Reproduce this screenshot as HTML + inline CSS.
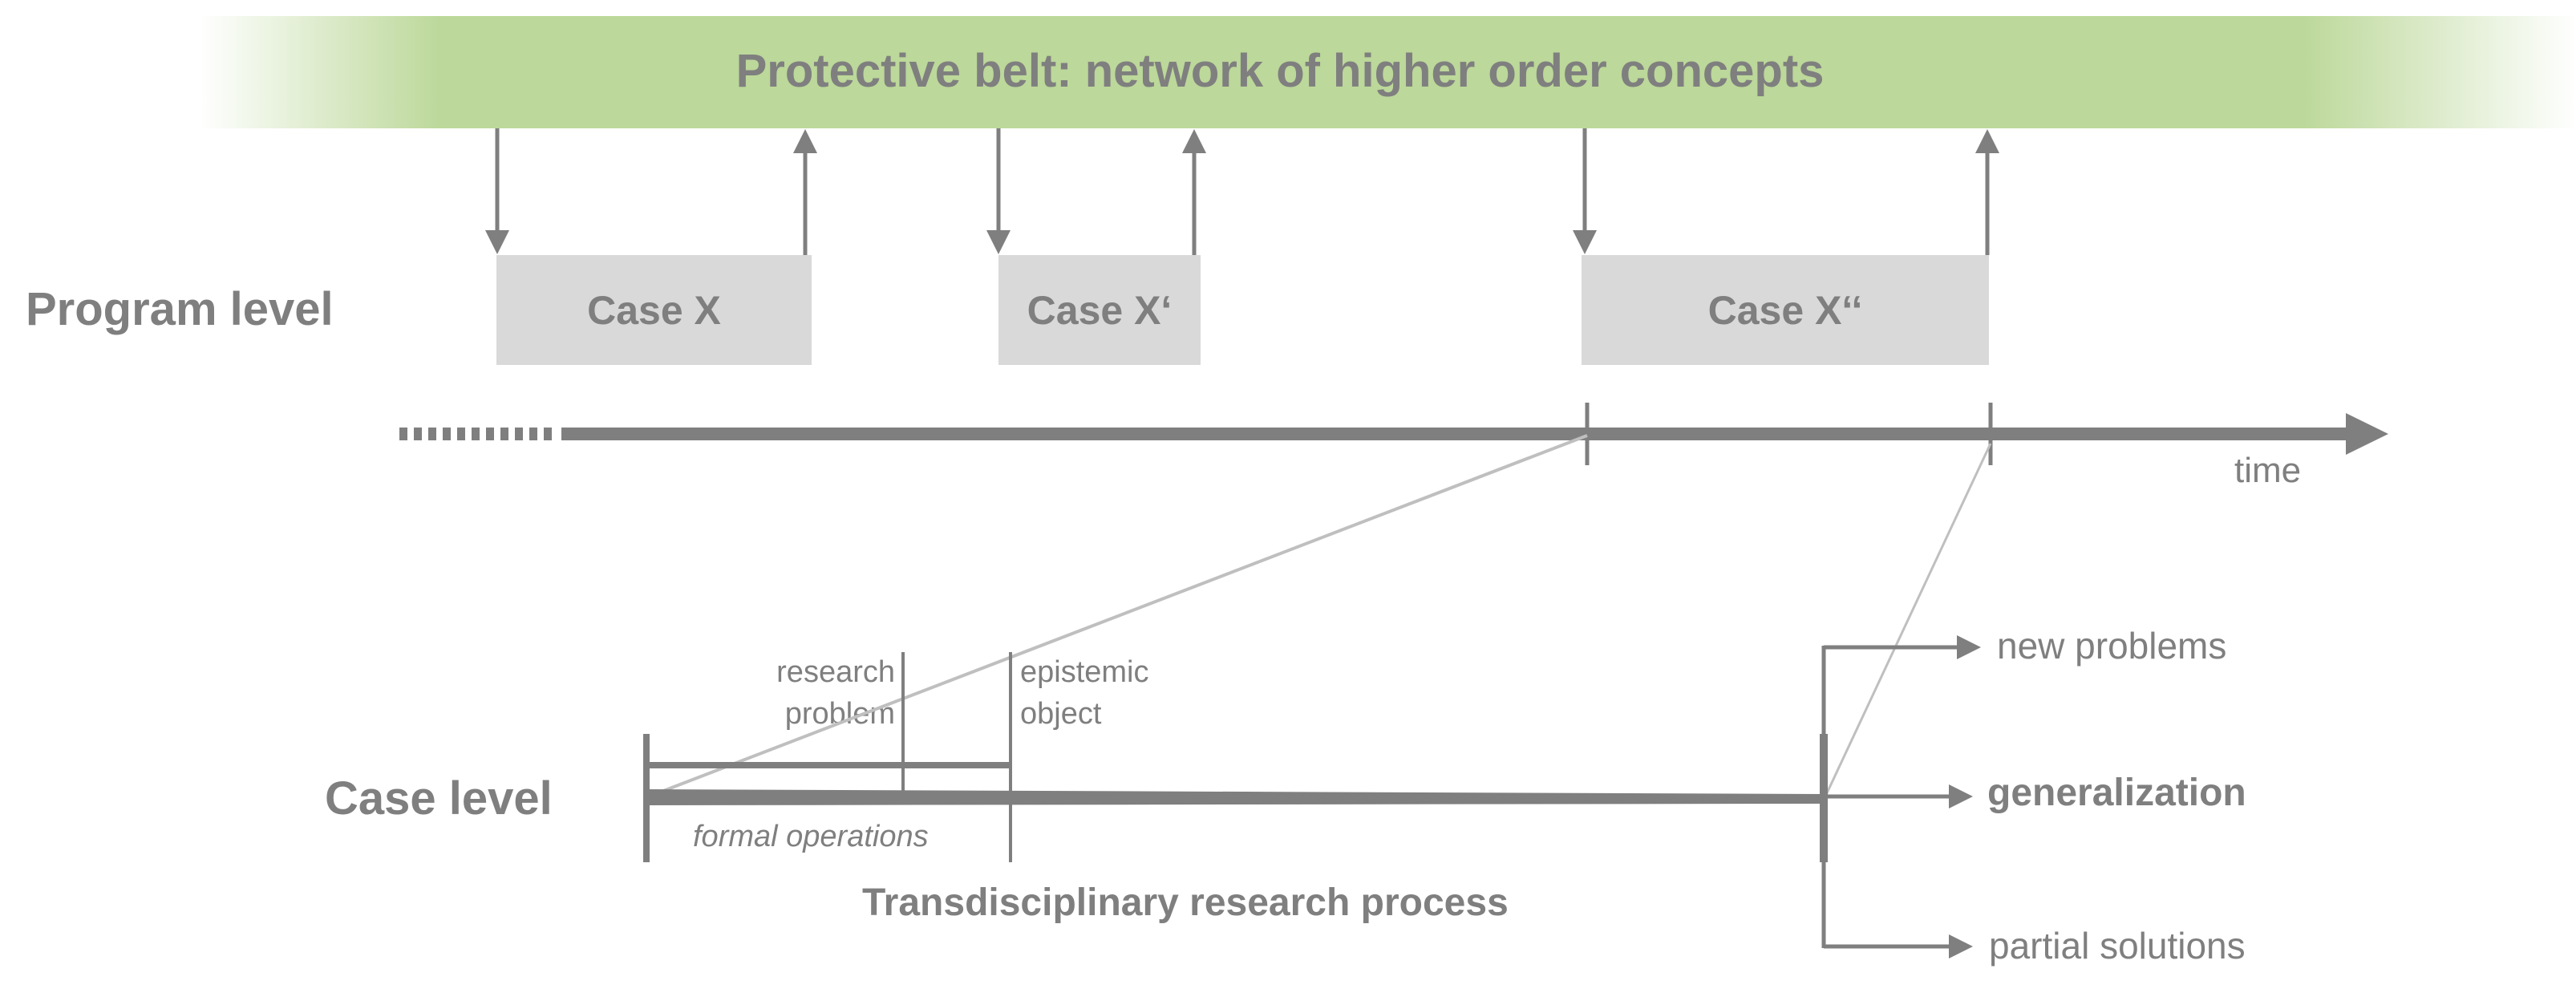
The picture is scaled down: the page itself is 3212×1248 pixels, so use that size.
<!DOCTYPE html>
<html><head><meta charset="utf-8"><style>
html,body{margin:0;padding:0;background:#fff;}
body{width:3212px;height:1248px;position:relative;overflow:hidden;font-family:"Liberation Sans",sans-serif;color:#7f7f7f;}
.band{position:absolute;left:250px;top:20px;width:2962px;height:140px;background:linear-gradient(to right,rgba(188,216,154,0) 0px,#bcd89a 300px,#bcd89a 2620px,rgba(188,216,154,0) 2962px);}
.t{position:absolute;white-space:nowrap;}
.box{position:absolute;background:#d9d9d9;top:318px;height:137px;display:flex;align-items:center;justify-content:center;font-weight:bold;font-size:50px;color:#7f7f7f;}
</style></head><body>
<div class="band"></div>
<div class="t" style="left:0;width:3212px;top:55px;text-align:center;font-weight:bold;font-size:58px;padding-left:40px;box-sizing:border-box;left:-30px;">Protective belt: network of higher order concepts</div>
<div class="box" style="left:619px;width:393px;">Case X</div>
<div class="box" style="left:1245px;width:252px;">Case X‘</div>
<div class="box" style="left:1972px;width:508px;">Case X‘‘</div>
<div class="t" style="left:32px;top:352px;font-weight:bold;font-size:58px;">Program level</div>
<div class="t" style="left:405px;top:962px;font-weight:bold;font-size:58px;">Case level</div>
<div class="t" style="left:2786px;top:562px;font-size:44px;">time</div>
<div class="t" style="left:900px;top:812px;width:216px;text-align:right;font-size:38px;line-height:52px;">research<br>problem</div>
<div class="t" style="left:1272px;top:812px;font-size:38px;line-height:52px;">epistemic<br>object</div>
<div class="t" style="left:864px;top:1022px;font-size:38px;font-style:italic;">formal operations</div>
<div class="t" style="left:1075px;top:1098px;font-size:48px;font-weight:bold;">Transdisciplinary research process</div>
<div class="t" style="left:2490px;top:778px;font-size:46px;">new problems</div>
<div class="t" style="left:2478px;top:961px;font-size:48px;font-weight:bold;">generalization</div>
<div class="t" style="left:2480px;top:1152px;font-size:46px;">partial solutions</div>
<svg width="3212" height="1248" style="position:absolute;left:0;top:0" xmlns="http://www.w3.org/2000/svg">
<defs>
<marker id="a" markerWidth="6" markerHeight="6" refX="5" refY="3" orient="auto" markerUnits="strokeWidth"><path d="M0,0 L6,3 L0,6 z" fill="#7f7f7f"/></marker>
</defs>
<g stroke="#7f7f7f" stroke-width="5" fill="none">
<line x1="620" y1="160" x2="620" y2="312" marker-end="url(#a)"/>
<line x1="1004" y1="318" x2="1004" y2="166" marker-end="url(#a)"/>
<line x1="1245" y1="160" x2="1245" y2="312" marker-end="url(#a)"/>
<line x1="1489" y1="318" x2="1489" y2="166" marker-end="url(#a)"/>
<line x1="1976" y1="160" x2="1976" y2="312" marker-end="url(#a)"/>
<line x1="2478" y1="318" x2="2478" y2="166" marker-end="url(#a)"/>
</g>
<line x1="498" y1="541" x2="696" y2="541" stroke="#7f7f7f" stroke-width="16" stroke-dasharray="10 8"/>
<line x1="700" y1="541" x2="2930" y2="541" stroke="#7f7f7f" stroke-width="16"/>
<path d="M2925,515 L2978,541 L2925,567 z" fill="#7f7f7f"/>
<line x1="1979" y1="502" x2="1979" y2="580" stroke="#7f7f7f" stroke-width="5"/>
<line x1="2482" y1="502" x2="2482" y2="580" stroke="#7f7f7f" stroke-width="5"/>
<line x1="1979" y1="543" x2="809" y2="993" stroke="#bfbfbf" stroke-width="4"/>
<line x1="2482" y1="553" x2="2276" y2="993" stroke="#bfbfbf" stroke-width="3"/>
<line x1="806" y1="915" x2="806" y2="1075" stroke="#7f7f7f" stroke-width="8"/>
<line x1="806" y1="954" x2="1260" y2="954" stroke="#7f7f7f" stroke-width="8"/>
<line x1="1126" y1="813" x2="1126" y2="994" stroke="#7f7f7f" stroke-width="4"/>
<line x1="1260" y1="813" x2="1260" y2="1075" stroke="#7f7f7f" stroke-width="4"/>
<path d="M806,984 L2274,990 L2274,1002 L806,1004 z" fill="#7f7f7f"/>
<line x1="2274" y1="805" x2="2274" y2="1182" stroke="#7f7f7f" stroke-width="5"/>
<line x1="2274" y1="915" x2="2274" y2="1075" stroke="#7f7f7f" stroke-width="10"/>
<g stroke="#7f7f7f" stroke-width="5" fill="none">
<line x1="2274" y1="807" x2="2465" y2="807" marker-end="url(#a)"/>
<line x1="2274" y1="993" x2="2455" y2="993" marker-end="url(#a)"/>
<line x1="2274" y1="1180" x2="2455" y2="1180" marker-end="url(#a)"/>
</g>
</svg>
</body></html>
